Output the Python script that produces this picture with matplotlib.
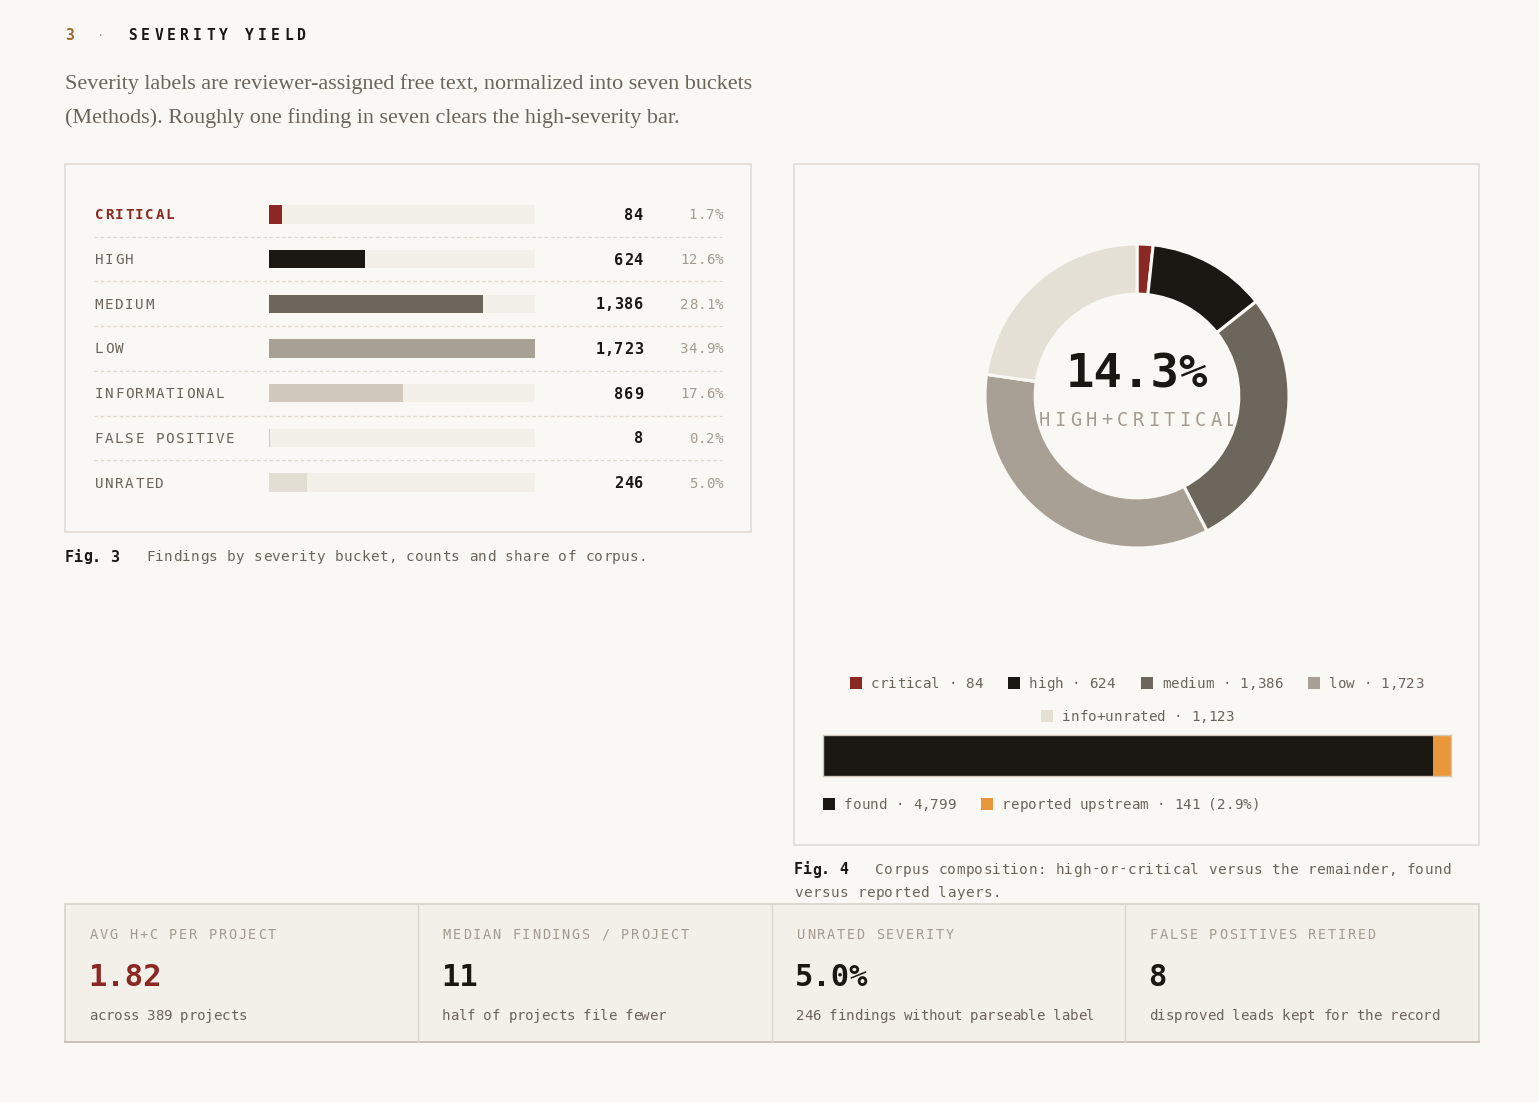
import matplotlib
matplotlib.use("Agg")
from matplotlib import pyplot as plt
from matplotlib.patches import Rectangle

# severity buckets (left table)
buckets = ["CRITICAL", "HIGH", "MEDIUM", "LOW", "INFORMATIONAL", "FALSE POSITIVE", "UNRATED"]
counts = [84, 624, 1386, 1723, 869, 8, 246]

# donut groups
donut_names = ["critical", "high", "medium", "low", "info+unrated"]
donut_counts = [84, 624, 1386, 1723, 1123]

# found vs reported
layer_names = ["found", "reported upstream"]
layer_counts = [4799, 141]

# stat cards
card_labels = ["AVG H+C PER PROJECT", "MEDIAN FINDINGS / PROJECT", "UNRATED SEVERITY", "FALSE POSITIVES RETIRED"]
card_values = ["1.82", "11", "5.0%", "8"]
card_notes = ["across 389 projects", "half of projects file fewer",
              "246 findings without parseable label", "disproved leads kept for the record"]

BG = "#faf8f4"
DARK = "#1b1713"
GRAY = "#6b645b"
LIGHT = "#a39b90"
TRACK = "#f3efe9"
BORDER = "#e0dbd3"
bar_colors = ["#8c2823", "#1b1713", "#6d665c", "#a8a094", "#d0c8bc", "#d0c8bc", "#e2ddd3"]
donut_colors = ["#8c2823", "#1b1713", "#6d665c", "#a8a094", "#e4e0d6"]
layer_colors = ["#1b1713", "#e8983b"]
MONO = "DejaVu Sans Mono"

W, H = 1539, 1102
fig = plt.figure(figsize=(W / 100, H / 100), dpi=100, facecolor=BG)

base = fig.add_axes([0, 0, 1, 1])
base.set_xlim(0, W)
base.set_ylim(H, 0)
base.axis("off")


def px_axes(x0, y0, x1, y1):
    ax = fig.add_axes([x0 / W, 1 - y1 / H, (x1 - x0) / W, (y1 - y0) / H])
    ax.set_facecolor("none")
    return ax


def spaced(x, y, s, pitch, size, color, weight="normal", ha="left"):
    """draw monospace text char by char with a fixed pitch (letter spacing)"""
    if ha == "right":
        x = x - len(s) * pitch
    elif ha == "center":
        x = x - len(s) * pitch / 2
    for i, ch in enumerate(s):
        base.text(x + i * pitch + pitch / 2, y + 1, ch, ha="center", va="center",
                  fontsize=size, color=color, fontweight=weight, family=MONO)


# header
spaced(65, 34, "3", 9, 10.5, "#a0692b", "bold")
spaced(96, 34, "·", 9, 9, LIGHT)
spaced(126, 34, "SEVERITY YIELD", 13, 10.5, DARK, "bold")
base.text(65, 84, "Severity labels are reviewer-assigned free text, normalized into seven buckets",
          fontsize=15.9, family="Liberation Serif", color=GRAY, va="center")
base.text(65, 118, "(Methods). Roughly one finding in seven clears the high-severity bar.",
          fontsize=15.9, family="Liberation Serif", color=GRAY, va="center")

# panels
base.add_patch(Rectangle((65, 164), 686, 368, facecolor=BG, edgecolor=BORDER, lw=1.2))
base.add_patch(Rectangle((794, 164), 685, 681, facecolor=BG, edgecolor=BORDER, lw=1.2))

# left table
total = sum(counts)
row_top, row_h = 192, 44.7
bax = px_axes(269, row_top, 535, row_top + row_h * len(buckets))
ys = list(range(len(buckets)))
bax.barh(ys, [max(counts)] * len(buckets), height=0.41, color=TRACK)
bax.barh(ys, counts, height=0.41, color=bar_colors)
bax.set_xlim(0, max(counts))
bax.set_ylim(len(buckets) - 0.5, -0.5)
bax.axis("off")

for i, (name, c) in enumerate(zip(buckets, counts)):
    yc = row_top + row_h * (i + 0.5)
    crit = i == 0
    spaced(94, yc, name, 10.1, 10.3, "#8c2823" if crit else GRAY, "bold" if crit else "normal")
    spaced(643, yc, f"{c:,}", 9.6, 11, DARK, "bold", ha="right")
    spaced(723, yc, f"{c / total * 100:.1f}%", 8.6, 10.2, LIGHT, ha="right")
    if i < len(buckets) - 1:
        yl = row_top + row_h * (i + 1)
        base.plot([94, 722], [yl, yl], color="#ddd7ce", lw=0.9, ls=(0, (3, 2)))

spaced(65, 556, "Fig. 3", 9, 10.8, DARK, "bold")
spaced(146, 556, "Findings by severity bucket, counts and share of corpus.", 8.96, 10.4, GRAY)

# donut
cx, cy, r = 1137, 396, 152
dax = px_axes(cx - r, cy - r, cx + r, cy + r)
dax.pie(donut_counts, colors=donut_colors, startangle=90, counterclock=False, radius=1,
        wedgeprops=dict(width=0.33, edgecolor=BG, linewidth=2.2))
dax.set_xlim(-1, 1)
dax.set_ylim(-1, 1)
dax.set_aspect("equal")
hc = (donut_counts[0] + donut_counts[1]) / sum(donut_counts) * 100
base.text(cx, 375, f"{hc:.1f}%", ha="center", va="center", fontsize=34,
          fontweight="bold", family=MONO, color=DARK)
spaced(cx + 1, 419, "HIGH+CRITICAL", 15.6, 13.5, LIGHT, ha="center")

# donut legend
leg_pos = [(850, 683), (1008, 683), (1141, 683), (1308, 683), (1041, 716)]
for (lx, ly), name, c, col in zip(leg_pos, donut_names, donut_counts, donut_colors):
    base.add_patch(Rectangle((lx, ly - 6), 12, 12, facecolor=col, edgecolor="none"))
    spaced(lx + 21, ly, f"{name} · {c:,}", 8.6, 10.3, GRAY)

# found vs reported bar
sax = px_axes(823, 735, 1451, 776)
left = 0
for c, col in zip(layer_counts, layer_colors):
    sax.barh([0], [c], left=left, height=1, color=col)
    left += c
sax.set_xlim(0, sum(layer_counts))
sax.set_ylim(-0.5, 0.5)
sax.set_xticks([])
sax.set_yticks([])
for sp in sax.spines.values():
    sp.set_color("#cfc8bc")
    sp.set_linewidth(1)

share = layer_counts[1] / sum(layer_counts) * 100
layer_texts = [f"{layer_names[0]} · {layer_counts[0]:,}",
               f"{layer_names[1]} · {layer_counts[1]:,} ({share:.1f}%)"]
for lx, txt, col in zip([823, 981], layer_texts, layer_colors):
    base.add_patch(Rectangle((lx, 804 - 6), 12, 12, facecolor=col, edgecolor="none"))
    spaced(lx + 21, 804, txt, 8.6, 10.3, GRAY)

spaced(794, 869, "Fig. 4", 9, 10.8, DARK, "bold")
spaced(875, 869, "Corpus composition: high-or-critical versus the remainder, found", 9.0, 10.4, GRAY)
spaced(794, 892, "versus reported layers.", 9.0, 10.4, GRAY)

# stat cards
base.add_patch(Rectangle((65, 904), 1414, 138, facecolor="#f3efe9", edgecolor="#d8d2c9", lw=1.2))
base.plot([65, 1479], [1042, 1042], color="#c9c2b8", lw=1.4)
edges = [65, 418, 772, 1125, 1479]
for k in range(4):
    x0 = edges[k]
    if k > 0:
        base.plot([x0, x0], [904, 1042], color="#dcd6cd", lw=1)
    spaced(x0 + 24, 934, card_labels[k], 9.9, 9.8, LIGHT)
    base.text(x0 + 23, 977, card_values[k], ha="left", va="center", fontsize=22,
              fontweight="bold", family=MONO, color="#8c2823" if k == 0 else DARK)
    spaced(x0 + 24, 1015, card_notes[k], 8.3, 10.2, GRAY)

fig.savefig("out.png", dpi=100, facecolor=BG)
